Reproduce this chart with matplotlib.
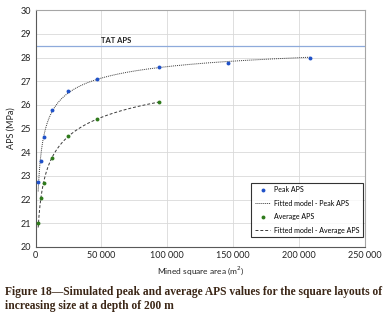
import numpy as np
import matplotlib
matplotlib.use("Agg")
import matplotlib.pyplot as plt
from matplotlib.ticker import FuncFormatter

# ---- data ----
area_peak = [2250, 4100, 6200, 12200, 24300, 46400, 93500, 146000, 208000]
peak_aps = [22.76, 23.63, 24.65, 25.79, 26.57, 27.08, 27.61, 27.76, 27.99]
area_avg = [2250, 4100, 6200, 12200, 24300, 46400, 93500]
avg_aps = [21.03, 22.08, 22.71, 23.74, 24.67, 25.40, 26.10]
tat_aps = 28.5
x_ticks = [0, 50000, 100000, 150000, 200000, 250000]
y_ticks = list(range(20, 31))

plt.rcParams['font.family'] = ['Lato', 'DejaVu Sans']


def fit_model(x, y):
    """Fit y = a - b * x^(-c) by grid search on c and least squares on a, b."""
    x = np.asarray(x, float)
    y = np.asarray(y, float)
    best = None
    for c in np.linspace(0.05, 1.5, 600):
        X = np.column_stack([np.ones_like(x), x ** (-c)])
        coef, *_ = np.linalg.lstsq(X, y, rcond=None)
        r = np.sum((X @ coef - y) ** 2)
        if best is None or r < best[0]:
            best = (r, coef[0], coef[1], c)
    _, a, b, c = best
    return lambda xx: a + b * np.asarray(xx, float) ** (-c)


fig = plt.figure(figsize=(3.89, 3.17), dpi=100)
ax = fig.add_axes([0.0913, 0.221, 0.847, 0.747])

grid_c = '#d9d9d9'
ax.set_axisbelow(True)
ax.grid(True, color=grid_c, lw=0.6)

f_peak = fit_model(area_peak, peak_aps)
f_avg = fit_model(area_avg, avg_aps)
xp = np.linspace(min(area_peak) * 0.9, max(area_peak), 400)
xa = np.linspace(min(area_avg) * 0.9, max(area_avg), 400)

ax.axhline(tat_aps, color='#8eaadb', lw=0.9)
ax.text(61000, tat_aps + 0.08, 'TAT APS', fontsize=5.5, ha='center', va='bottom',
        color='#222222', fontweight='bold')

ax.plot(area_peak, peak_aps, 'o', color='#1f51c8', ms=2.8, mec='none', label='Peak APS', zorder=4)
ax.plot(xp, f_peak(xp), ls=(0, (1, 1)), color='#3a3a3a', lw=0.7, label='Fitted model - Peak APS', zorder=3)
ax.plot(area_avg, avg_aps, 'o', color='#2f7a1c', ms=2.8, mec='none', label='Average APS', zorder=4)
ax.plot(xa, f_avg(xa), ls=(0, (3, 2)), color='#3a3a3a', lw=0.7, label='Fitted model - Average APS', zorder=3)

ax.set_xlim(0, 250000)
ax.set_ylim(20, 30)
ax.set_xticks(x_ticks)
ax.set_yticks(y_ticks)
ax.xaxis.set_major_formatter(FuncFormatter(lambda v, p: f"{int(v):,}".replace(',', ' ')))
ax.tick_params(length=0, labelsize=6.5, colors='#222222', pad=3)

for s in ['top', 'right']:
    ax.spines[s].set_color('#a6a6a6')
    ax.spines[s].set_linewidth(0.8)
for s in ['left', 'bottom']:
    ax.spines[s].set_color('#595959')
    ax.spines[s].set_linewidth(0.8)

ax.set_ylabel('APS (MPa)', fontsize=6.5, color='#222222', labelpad=4)
ax.set_xlabel('Mined square area (m$^2$)', fontsize=6, color='#222222', labelpad=3)

leg = ax.legend(loc='lower right', bbox_to_anchor=(0.997, 0.035), fontsize=5.0, frameon=True,
                fancybox=False, edgecolor='black', handlelength=2.2, handletextpad=0.5,
                borderpad=0.5, labelspacing=0.95, markerscale=1.0, borderaxespad=0.2)
leg.get_frame().set_linewidth(0.8)

fig.text(0.013, 0.058, 'Figure 18\u2014Simulated peak and average APS values for the square layouts of\n'
         'increasing size at a depth of 200 m', fontsize=8.3, fontweight='bold',
         family=['Liberation Serif', 'DejaVu Serif'], color='#3b2616', ha='left', va='center',
         linespacing=1.2)

fig.savefig('out.png', dpi=100)
